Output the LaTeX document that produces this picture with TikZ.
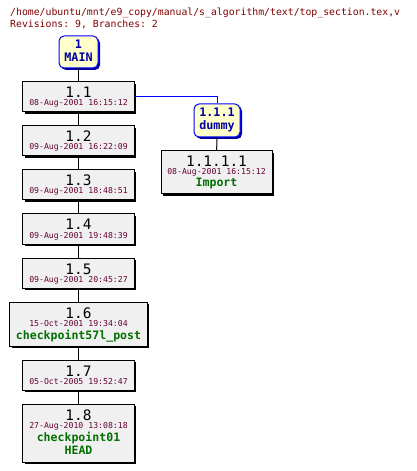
\documentclass[tikz,border=0pt]{standalone}
\usepackage{fontspec}
\setmonofont{DejaVu Sans Mono}
\usetikzlibrary{shadows}
\definecolor{hdr}{HTML}{800000}
\definecolor{datec}{HTML}{660033}
\definecolor{namec}{HTML}{007000}
\definecolor{bluet}{HTML}{0000A0}
\definecolor{boxfill}{HTML}{F0F0F0}
\definecolor{yel}{HTML}{FFFFCC}
\tikzset{
  revbox/.style={draw=black, line width=1bp, fill=boxfill, inner sep=0pt,
    drop shadow={shadow xshift=2bp, shadow yshift=-2bp, fill=black, opacity=1}},
  brbox/.style={draw=blue, line width=1bp, fill=yel, inner sep=0pt, rounded corners=5bp,
    drop shadow={shadow xshift=2bp, shadow yshift=-2bp, fill=blue!60!black, opacity=1}},
  revt/.style={anchor=base, inner sep=0pt, font=\ttfamily\fontsize{14.5}{14.5}\selectfont},
  datet/.style={anchor=base, inner sep=0pt, text=datec, font=\ttfamily\fontsize{8.2}{8.2}\selectfont},
  namet/.style={anchor=base, inner sep=0pt, text=namec, font=\ttfamily\bfseries\fontsize{11.6}{11.6}\selectfont},
  brt/.style={anchor=base, inner sep=0pt, text=bluet, font=\ttfamily\bfseries\fontsize{11.8}{11.8}\selectfont},
  hdrt/.style={anchor=base west, inner sep=0pt, text=hdr, font=\ttfamily\fontsize{9.85}{9.85}\selectfont},
  conn/.style={draw=black, line width=1bp},
  bconn/.style={draw=blue, line width=1bp}
}
\begin{document}
\begin{tikzpicture}[x=1bp,y=-1bp]
\useasboundingbox[fill=white] (0,0) rectangle (416,471);
\node[hdrt] (h1) at (10,16) {/home/ubuntu/mnt/e9\_copy/manual/s\_algorithm/text/top\_section.tex,v};
\node[hdrt] (h2) at (10,28) {Revisions: 9, Branches: 2};
% branch MAIN
\node[brbox, minimum width=39bp, minimum height=32bp] (main) at (78.5,52) {};
\node[brt] (mainA) at (78.5,49) {1};
\node[brt] (mainB) at (78.5,62) {MAIN};
% revisions
\node[revbox, minimum width=111bp, minimum height=30bp] (r11) at (78.5,97) {};
\node[revt] (r11a) at (78.5,98) {1.1};
\node[datet] (r11b) at (78.5,106) {08-Aug-2001 16:15:12};
\node[revbox, minimum width=111bp, minimum height=30bp] (r12) at (78.5,141) {};
\node[revt] (r12a) at (78.5,142) {1.2};
\node[datet] (r12b) at (78.5,150) {09-Aug-2001 16:22:09};
\node[revbox, minimum width=111bp, minimum height=30bp] (r13) at (78.5,185) {};
\node[revt] (r13a) at (78.5,186) {1.3};
\node[datet] (r13b) at (78.5,194) {09-Aug-2001 18:48:51};
\node[revbox, minimum width=111bp, minimum height=30bp] (r14) at (78.5,229) {};
\node[revt] (r14a) at (78.5,230) {1.4};
\node[datet] (r14b) at (78.5,238) {09-Aug-2001 19:48:39};
\node[revbox, minimum width=111bp, minimum height=30bp] (r15) at (78.5,273) {};
\node[revt] (r15a) at (78.5,274) {1.5};
\node[datet] (r15b) at (78.5,282) {09-Aug-2001 20:45:27};
\node[revbox, minimum width=137bp, minimum height=44bp] (r16) at (78.5,324) {};
\node[revt] (r16a) at (78.5,318) {1.6};
\node[datet] (r16b) at (78.5,326) {15-Oct-2001 19:34:04};
\node[namet] (r16c) at (78.5,339) {checkpoint57l\_post};
\node[revbox, minimum width=111bp, minimum height=30bp] (r17) at (78.5,375) {};
\node[revt] (r17a) at (78.5,376) {1.7};
\node[datet] (r17b) at (78.5,384) {05-Oct-2005 19:52:47};
\node[revbox, minimum width=111bp, minimum height=58bp] (r18) at (78.5,433) {};
\node[revt] (r18a) at (78.5,420) {1.8};
\node[datet] (r18b) at (78.5,428) {27-Aug-2010 13:08:18};
\node[namet] (r18c) at (78.5,441) {checkpoint01};
\node[namet] (r18d) at (78.5,454) {HEAD};
% side branch
\node[brbox, minimum width=46bp, minimum height=33bp] (dummy) at (217,120.5) {};
\node[brt] (dummyA) at (217,117) {1.1.1};
\node[brt] (dummyB) at (217,130) {dummy};
\node[revbox, minimum width=111bp, minimum height=43bp] (r1111) at (216.5,172.5) {};
\node[revt] (r1111a) at (216.5,167) {1.1.1.1};
\node[datet] (r1111b) at (216.5,175) {08-Aug-2001 16:15:12};
\node[namet] (r1111c) at (216.5,187) {Import};
% connectors
\draw[conn] (main) -- (r11);
\draw[conn] (r11) -- (r12);
\draw[conn] (r12) -- (r13);
\draw[conn] (r13) -- (r14);
\draw[conn] (r14) -- (r15);
\draw[conn] (r15) -- (r16);
\draw[conn] (r16) -- (r17);
\draw[conn] (r17) -- (r18);
\draw[bconn] (r11.east) -| (dummy.north);
\draw[conn] (dummy) -- (r1111);
\end{tikzpicture}
\end{document}
